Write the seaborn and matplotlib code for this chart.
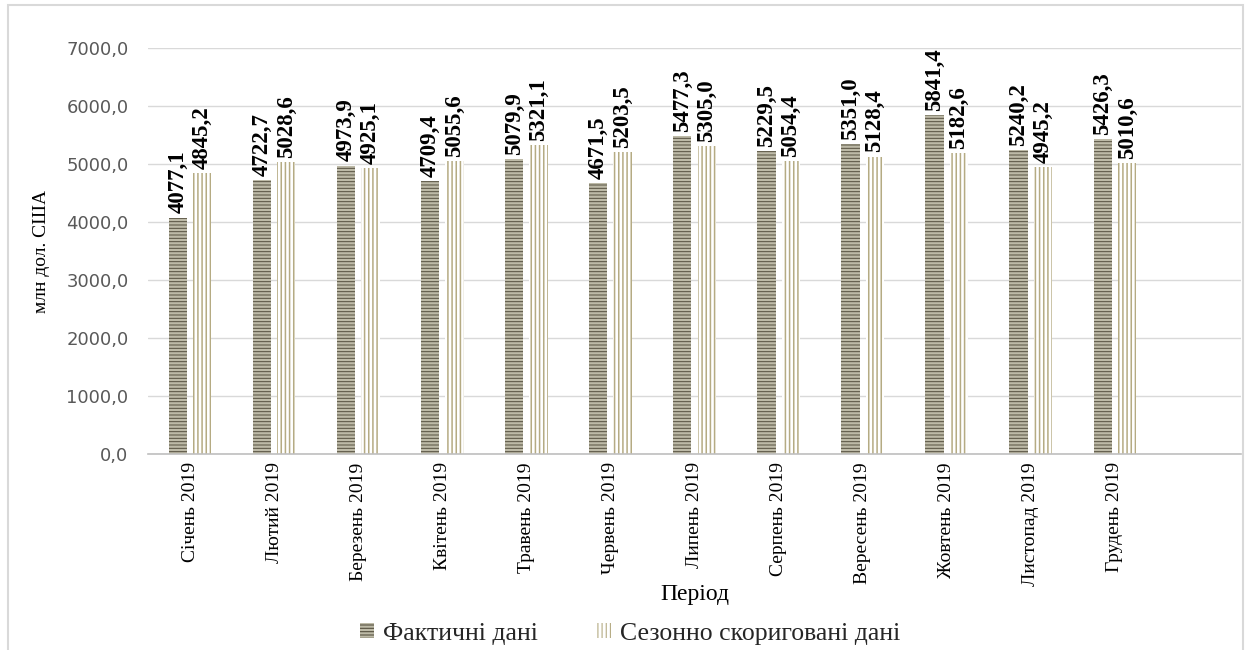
import pandas as pd
import matplotlib.pyplot as plt
import seaborn as sns
from matplotlib.patches import Patch, Rectangle
from matplotlib.ticker import FuncFormatter

months = ["Січень 2019", "Лютий 2019", "Березень 2019", "Квітень 2019",
          "Травень 2019", "Червень 2019", "Липень 2019", "Серпень 2019",
          "Вересень 2019", "Жовтень 2019", "Листопад 2019", "Грудень 2019"]
fact = [4077.1, 4722.7, 4973.9, 4709.4, 5079.9, 4671.5,
        5477.3, 5229.5, 5351.0, 5841.4, 5240.2, 5426.3]
seasonal = [4845.2, 5028.6, 4925.1, 5055.6, 5321.1, 5203.5,
            5305.0, 5054.4, 5128.4, 5182.6, 4945.2, 5010.6]
series = ["Фактичні дані", "Сезонно скориговані дані"]

sns.set_theme(style="white")
plt.rcParams["font.family"] = ["Liberation Serif", "DejaVu Serif"]
plt.rcParams["hatch.linewidth"] = 0.8

df = pd.DataFrame({
    "month": months * 2,
    "value": fact + seasonal,
    "series": [series[0]] * len(months) + [series[1]] * len(months),
})


def fmt(v):
    return f"{v:.1f}".replace(".", ",")


fig = plt.figure(figsize=(12.5, 6.5), dpi=100)
ax = fig.add_axes([0.1184, 0.3015, 0.8744, 0.6245])

sns.barplot(data=df, x="month", y="value", hue="series", hue_order=series,
            palette=["#b8b5a2", "#ffffff"], width=0.58, gap=0.25,
            ax=ax, legend=False)

# bar styles: horizontal stripes / vertical lines
styles = [
    dict(fc="#bdbaa7", ec="#55503f", hatch="-----", hlw=0.7),
    dict(fc="#ffffff", ec="#b5ab83", hatch="||||", hlw=1.1),
]
for cont, st, vals in zip(ax.containers, styles, [fact, seasonal]):
    for p in cont:
        p.set_facecolor(st["fc"])
        p.set_edgecolor(st["ec"])
        p.set_hatch(st["hatch"])
        p.set_linewidth(0)
        if hasattr(p, "set_hatch_linewidth"):
            p.set_hatch_linewidth(st["hlw"])
    ax.bar_label(cont, labels=[fmt(v) for v in vals], rotation=90, padding=3,
                 fontsize=16.5, fontweight="bold", color="black")

ax.set_xlim(-0.5, 12.5)
ax.set_ylim(0, 7000)
ax.set_yticks(range(0, 7001, 1000))
ax.yaxis.set_major_formatter(FuncFormatter(lambda v, p: fmt(v)))
ax.yaxis.grid(True, color="#d9d9d9", lw=1)
ax.set_axisbelow(True)
for s in ["top", "right", "left"]:
    ax.spines[s].set_visible(False)
ax.spines["bottom"].set_color("#bfbfbf")
ax.spines["bottom"].set_linewidth(1.2)

ax.tick_params(axis="y", length=0, pad=14, labelsize=13, labelcolor="#595959")
for t in ax.get_yticklabels():
    t.set_fontfamily("DejaVu Sans")
ax.tick_params(axis="x", length=0, pad=6, labelsize=14, labelcolor="black")
plt.setp(ax.get_xticklabels(), rotation=90)

ax.set_xlabel("Період", fontsize=17, color="black")
ax.xaxis.set_label_coords(0.5, -0.32)
ax.set_ylabel("млн дол. США", fontsize=14, color="black")
ax.yaxis.set_label_coords(-0.09, 0.5)

handles = [Patch(facecolor=st["fc"], edgecolor=st["ec"], hatch=st["hatch"], lw=0)
           for st in styles]
fig.legend(handles, series, loc="center", bbox_to_anchor=(0.504, 0.025), ncol=2,
           frameon=False, fontsize=18.5, handlelength=0.55, handleheight=0.55,
           handletextpad=0.35, columnspacing=2.3)

fig.patches.append(Rectangle((0.0064, -0.02), 0.988, 1.012, transform=fig.transFigure,
                             fill=False, edgecolor="#d9d9d9", lw=1.5))

fig.savefig("out.png", dpi=100)
